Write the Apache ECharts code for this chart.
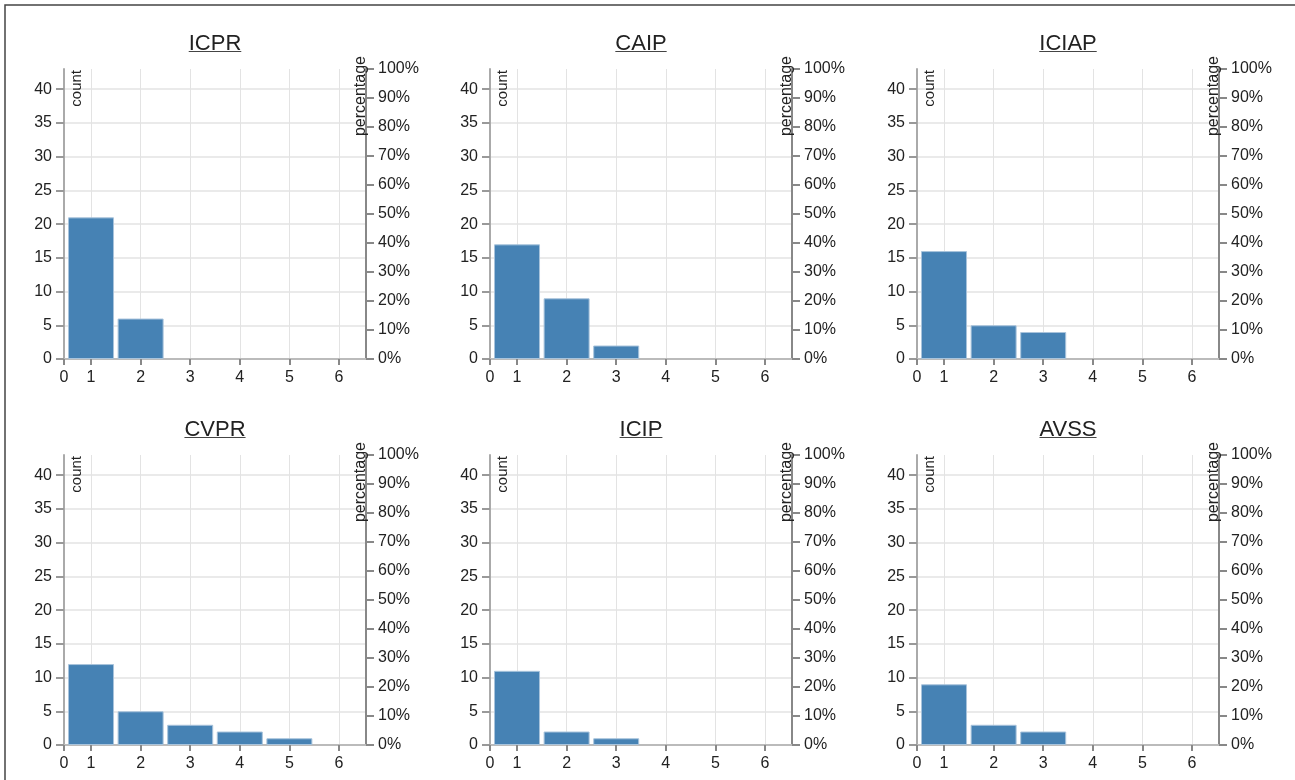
<!DOCTYPE html>
<html>
<head>
<meta charset="utf-8">
<script src="https://cdn.jsdelivr.net/npm/echarts@6/dist/echarts.min.js"></script>
<style>
  html, body { margin: 0; padding: 0; background: #fff; }
  #chart { width: 1295px; height: 780px; }
</style>
</head>
<body>
<div id="chart"></div>
<script>
// ---- data ----
const venues = ['ICPR', 'CAIP', 'ICIAP', 'CVPR', 'ICIP', 'AVSS'];
const categories = [1, 2, 3, 4, 5, 6];
const countsICPR  = [21, 6, 0, 0, 0, 0];
const countsCAIP  = [17, 9, 2, 0, 0, 0];
const countsICIAP = [16, 5, 4, 0, 0, 0];
const countsCVPR  = [12, 5, 3, 2, 1, 0];
const countsICIP  = [11, 2, 1, 0, 0, 0];
const countsAVSS  = [9, 3, 2, 0, 0, 0];
const countAxisMax = 43;
const countTickStep = 5;
const percentTicks = [0, 10, 20, 30, 40, 50, 60, 70, 80, 90, 100];

const allCounts = [countsICPR, countsCAIP, countsICIAP, countsCVPR, countsICIP, countsAVSS];

// ---- layout ----
const colLeft = [64, 490, 917];
const rowTop = [69, 455];
const gridW = 302;
const gridH = 290;
const FONT = 'Liberation Sans, Arial, sans-serif';
const TITLE_SIZE = 22;
const TICK_SIZE = 16;

const chart = echarts.init(document.getElementById('chart'), null, { renderer: 'canvas' });

const measureCtx = document.createElement('canvas').getContext('2d');
function textWidth(txt, size) {
  measureCtx.font = size + 'px ' + FONT;
  return measureCtx.measureText(txt).width;
}

const grids = [], xAxes = [], yAxes = [], series = [], titles = [], graphics = [];

graphics.push({
  type: 'rect', silent: true, z: 0,
  shape: { x: 5, y: 5, width: 1400, height: 900 },
  style: { fill: 'none', stroke: '#444', lineWidth: 1.5 }
});

venues.forEach((name, i) => {
  const col = i % 3, row = Math.floor(i / 3);
  const left = colLeft[col], top = rowTop[row];
  const cx = left + gridW / 2;
  grids.push({ left: left, top: top, width: gridW, height: gridH, containLabel: false });

  xAxes.push({
    type: 'value', gridIndex: i,
    min: 0.455, max: 6.545, minInterval: 1, maxInterval: 1,
    axisLine: { show: true, onZero: false, lineStyle: { color: '#bbb', width: 2 } },
    axisTick: { show: true, length: 6, lineStyle: { color: '#888', width: 2 } },
    axisLabel: {
      show: true, margin: 11, color: '#222', fontSize: TICK_SIZE, fontFamily: FONT,
      showMinLabel: true, showMaxLabel: false,
      formatter: v => (v < 0.9 ? '0' : (v > 6.1 ? '' : String(Math.round(v))))
    },
    splitLine: { show: true, showMinLine: false, showMaxLine: false, lineStyle: { color: '#e3e3e3', width: 1 } }
  });

  yAxes.push({
    type: 'value', gridIndex: i, position: 'left',
    min: 0, max: countAxisMax, interval: countTickStep,
    axisLine: { show: true, lineStyle: { color: '#aaa', width: 2 } },
    axisTick: { show: true, length: 8, lineStyle: { color: '#999', width: 2 } },
    axisLabel: {
      margin: 12, color: '#222', fontSize: TICK_SIZE, fontFamily: FONT, showMaxLabel: false,
      formatter: v => (v > 41 ? '' : String(v))
    },
    splitLine: { show: true, showMinLine: false, showMaxLine: false, lineStyle: { color: '#e3e3e3', width: 1.5 } }
  });
  yAxes.push({
    type: 'value', gridIndex: i, position: 'right',
    min: percentTicks[0], max: percentTicks[percentTicks.length - 1],
    interval: percentTicks[1] - percentTicks[0],
    axisLine: { show: true, lineStyle: { color: '#888', width: 2 } },
    axisTick: { show: true, length: 8, lineStyle: { color: '#888', width: 2 } },
    axisLabel: { margin: 12, color: '#222', fontSize: TICK_SIZE, fontFamily: FONT, formatter: v => v + '%' },
    splitLine: { show: false }
  });

  const data = [];
  categories.forEach((c, k) => { if (allCounts[i][k] > 0) data.push([c, allCounts[i][k]]); });
  series.push({
    type: 'bar', xAxisIndex: i, yAxisIndex: 2 * i,
    data: data, barWidth: 46,
    itemStyle: { color: '#4682b4', borderColor: '#a9c4dc', borderWidth: 1 },
    emphasis: { disabled: true }, silent: true
  });

  titles.push({
    text: name, left: cx, top: top - 36, textAlign: 'center', padding: 0,
    textStyle: { fontSize: TITLE_SIZE, fontWeight: 'normal', color: '#222', fontFamily: FONT }
  });
  const tw = textWidth(name, TITLE_SIZE);
  graphics.push({
    type: 'line', silent: true,
    shape: { x1: cx - tw / 2, y1: top - 17.5, x2: cx + tw / 2, y2: top - 17.5 },
    style: { stroke: '#444', lineWidth: 1.2 }
  });

  graphics.push({
    type: 'text', silent: true, z: 10,
    x: left + 5, y: top + 1, rotation: Math.PI / 2,
    style: { text: 'count', fontSize: 15, fontFamily: FONT, fill: '#222', align: 'right', verticalAlign: 'top' }
  });
  graphics.push({
    type: 'text', silent: true, z: 10,
    x: left + gridW + 3, y: top - 13, rotation: Math.PI / 2,
    style: { text: 'percentage', fontSize: 16, fontFamily: FONT, fill: '#222', align: 'right', verticalAlign: 'bottom' }
  });
});

chart.setOption({
  animation: false,
  title: titles,
  grid: grids,
  xAxis: xAxes,
  yAxis: yAxes,
  series: series,
  graphic: graphics
});
</script>
</body>
</html>
